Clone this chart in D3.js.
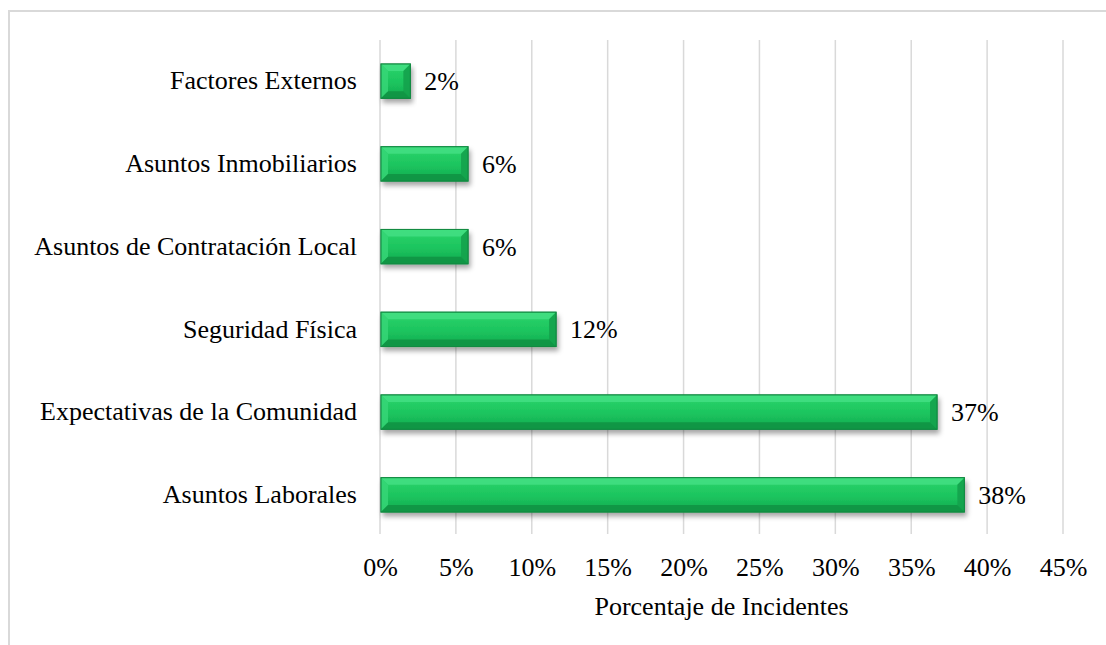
<!DOCTYPE html>
<html>
<head>
<meta charset="utf-8">
<script src="https://cdn.jsdelivr.net/npm/d3@7"></script>
<style>
  body { margin: 0; background: #fff; }
  text { font-family: "Liberation Serif", "Times New Roman", serif; fill: #000; }
</style>
</head>
<body>
<div id="chart"></div>
<script>
// donnees (de haut en bas)
var categories = ["Factores Externos", "Asuntos Inmobiliarios", "Asuntos de Contratación Local",
  "Seguridad Física", "Expectativas de la Comunidad", "Asuntos Laborales"];
var values = [2.0, 5.8, 5.8, 11.6, 36.7, 38.5];
var valueLabels = ["2%", "6%", "6%", "12%", "37%", "38%"];
var ticks = [0, 5, 10, 15, 20, 25, 30, 35, 40, 45];
var axisTitle = "Porcentaje de Incidentes";

var width = 1106, height = 645;
var mLeft = 380, mRight = 1063, mTop = 40, mBottom = 536;
var fontSize = "26px";

var svg = d3.select("#chart").append("svg")
  .attr("width", width)
  .attr("height", height);

// cadre gris
svg.append("rect")
  .attr("x", 9).attr("y", 11)
  .attr("width", 1110).attr("height", 660)
  .attr("fill", "none")
  .attr("stroke", "#d9d9d9")
  .attr("stroke-width", 2);

var defs = svg.append("defs");
var grad = defs.append("linearGradient").attr("id", "barGrad")
  .attr("x1", 0).attr("y1", 0).attr("x2", 0).attr("y2", 1);
grad.append("stop").attr("offset", "0%").attr("stop-color", "#2cd56c");
grad.append("stop").attr("offset", "55%").attr("stop-color", "#1cc45e");
grad.append("stop").attr("offset", "100%").attr("stop-color", "#13a94f");

var shadow = defs.append("filter").attr("id", "shadow")
  .attr("x", "-10%").attr("y", "-30%").attr("width", "130%").attr("height", "180%");
shadow.append("feDropShadow")
  .attr("dx", 2).attr("dy", 4).attr("stdDeviation", 2.5)
  .attr("flood-color", "#000").attr("flood-opacity", 0.35);

var x = d3.scaleLinear().domain([0, 45]).range([mLeft, mRight]);
var y = d3.scaleBand().domain(categories).range([mTop, mBottom]).paddingInner(0.585).paddingOuter(0.29);

// grille verticale
svg.append("g").selectAll("line")
  .data(ticks)
  .enter().append("line")
  .attr("x1", d => x(d)).attr("x2", d => x(d))
  .attr("y1", mTop).attr("y2", mBottom - 2)
  .attr("stroke", "#d9d9d9")
  .attr("stroke-width", 1.5);

// axe des x (libelles seulement)
var xAxis = svg.append("g")
  .attr("transform", "translate(0," + mBottom + ")")
  .call(d3.axisBottom(x).tickValues(ticks).tickFormat(d => d + "%").tickSize(0).tickPadding(22));
xAxis.select(".domain").remove();
xAxis.selectAll("text").attr("font-size", fontSize).attr("font-family", "Liberation Serif");

// axe des y (libelles seulement)
var yAxis = svg.append("g")
  .attr("transform", "translate(" + mLeft + ",0)")
  .call(d3.axisLeft(y).tickSize(0).tickPadding(23));
yAxis.select(".domain").remove();
yAxis.selectAll("text").attr("font-size", fontSize).attr("font-family", "Liberation Serif");

// barres avec effet biseau
var bev = 7;
var bars = svg.append("g").selectAll("g.bar")
  .data(categories)
  .enter().append("g")
  .attr("class", "bar");

bars.append("rect")
  .attr("x", x(0) + 1)
  .attr("y", d => y(d))
  .attr("width", (d, i) => x(values[i]) - x(0) - 1)
  .attr("height", y.bandwidth())
  .attr("fill", "url(#barGrad)")
  .attr("stroke", "#118a40")
  .attr("stroke-width", 1)
  .attr("filter", "url(#shadow)");

function poly(pts) { return "M" + pts.map(p => p.join(",")).join("L") + "Z"; }

// biseau haut (clair)
bars.append("path")
  .attr("d", (d, i) => {
    var x0 = x(0) + 1, x1 = x(values[i]), y0 = y(d);
    return poly([[x0, y0], [x1, y0], [x1 - bev, y0 + bev], [x0 + bev, y0 + bev]]);
  })
  .attr("fill", "#45e085").attr("opacity", 0.8);

// biseau gauche (clair)
bars.append("path")
  .attr("d", (d, i) => {
    var x0 = x(0) + 1, y0 = y(d), y1 = y(d) + y.bandwidth();
    return poly([[x0, y0], [x0 + bev, y0 + bev], [x0 + bev, y1 - bev], [x0, y1]]);
  })
  .attr("fill", "#36d677").attr("opacity", 0.85);

// biseau droit (fonce)
bars.append("path")
  .attr("d", (d, i) => {
    var x1 = x(values[i]), y0 = y(d), y1 = y(d) + y.bandwidth();
    return poly([[x1, y0], [x1, y1], [x1 - bev, y1 - bev], [x1 - bev, y0 + bev]]);
  })
  .attr("fill", "#14a24c").attr("opacity", 0.9);

// biseau bas (fonce)
bars.append("path")
  .attr("d", (d, i) => {
    var x0 = x(0) + 1, x1 = x(values[i]), y1 = y(d) + y.bandwidth();
    return poly([[x0, y1], [x0 + bev, y1 - bev], [x1 - bev, y1 - bev], [x1, y1]]);
  })
  .attr("fill", "#0f9444").attr("opacity", 0.9);

// contour
bars.append("rect")
  .attr("x", x(0) + 1)
  .attr("y", d => y(d))
  .attr("width", (d, i) => x(values[i]) - x(0) - 1)
  .attr("height", y.bandwidth())
  .attr("fill", "none")
  .attr("stroke", "#128a42")
  .attr("stroke-width", 1);

// etiquettes de valeurs
svg.append("g").selectAll("text")
  .data(categories)
  .enter().append("text")
  .attr("x", (d, i) => x(values[i]) + 14)
  .attr("y", d => y(d) + y.bandwidth() / 2)
  .attr("dy", "0.35em")
  .attr("font-size", fontSize)
  .text((d, i) => valueLabels[i]);

// titre de l'axe
svg.append("text")
  .attr("x", (mLeft + mRight) / 2)
  .attr("y", 615)
  .attr("text-anchor", "middle")
  .attr("font-size", fontSize)
  .text(axisTitle);
</script>
</body>
</html>
